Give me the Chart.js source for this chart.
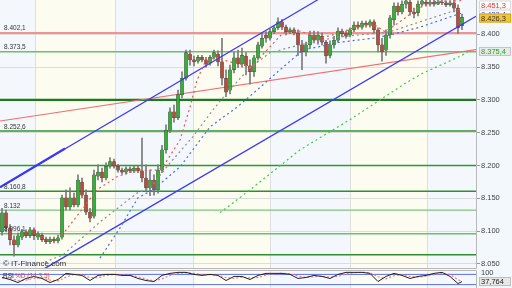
<!DOCTYPE html>
<html>
<head>
<meta charset="utf-8">
<script src="https://cdn.jsdelivr.net/npm/chart.js@4.4.1/dist/chart.umd.min.js"></script>
<style>
  html, body { margin: 0; padding: 0; background: #f2f8fb; }
  #wrap { position: relative; width: 512px; height: 288px; overflow: hidden; }
  #main { position: absolute; left: 0; top: 0; }
  #rsi  { position: absolute; left: 0; top: 270px; }
</style>
</head>
<body>
<div id="wrap">
  <canvas id="main" width="512" height="269"></canvas>
  <canvas id="rsi" width="512" height="18"></canvas>
</div>
<script>
/* ── Données ───────────────────────────────────────────────── */

const openP = [
  8.099, 8.128, 8.105, 8.087, 8.079, 8.091, 8.099, 8.093, 8.102, 8.091,
  8.094, 8.088, 8.084, 8.088, 8.085, 8.091, 8.151, 8.137, 8.151, 8.140,
  8.175, 8.155, 8.129, 8.123, 8.184, 8.190, 8.181, 8.199, 8.206, 8.199,
  8.193, 8.190, 8.195, 8.192, 8.196, 8.192, 8.181, 8.166, 8.178, 8.163,
  8.193, 8.224, 8.254, 8.282, 8.273, 8.308, 8.333, 8.370, 8.361, 8.359,
  8.365, 8.361, 8.356, 8.365, 8.370, 8.358, 8.333, 8.315, 8.346, 8.364,
  8.355, 8.367, 8.352, 8.343, 8.364, 8.382, 8.399, 8.394, 8.404, 8.410,
  8.419, 8.411, 8.404, 8.407, 8.402, 8.384, 8.373, 8.384, 8.399, 8.391,
  8.397, 8.388, 8.368, 8.384, 8.391, 8.405, 8.401, 8.399, 8.407, 8.414,
  8.411, 8.417, 8.414, 8.419, 8.407, 8.384, 8.376, 8.399, 8.422, 8.443,
  8.434, 8.446, 8.449, 8.434, 8.433, 8.446, 8.449, 8.446, 8.449, 8.446,
  8.449, 8.448, 8.445, 8.448, 8.440, 8.413,
];
const highP = [
  8.135, 8.132, 8.110, 8.093, 8.097, 8.103, 8.102, 8.106, 8.105, 8.099,
  8.097, 8.091, 8.091, 8.091, 8.094, 8.155, 8.163, 8.166, 8.158, 8.186,
  8.181, 8.163, 8.135, 8.193, 8.201, 8.196, 8.204, 8.212, 8.210, 8.202,
  8.196, 8.198, 8.198, 8.199, 8.199, 8.242, 8.201, 8.193, 8.186, 8.201,
  8.231, 8.262, 8.288, 8.292, 8.315, 8.343, 8.376, 8.376, 8.367, 8.368,
  8.368, 8.365, 8.368, 8.376, 8.375, 8.394, 8.346, 8.353, 8.373, 8.376,
  8.379, 8.372, 8.361, 8.368, 8.388, 8.401, 8.404, 8.408, 8.413, 8.425,
  8.423, 8.414, 8.410, 8.410, 8.407, 8.391, 8.388, 8.405, 8.405, 8.404,
  8.402, 8.391, 8.390, 8.397, 8.410, 8.408, 8.405, 8.410, 8.419, 8.419,
  8.420, 8.420, 8.422, 8.422, 8.410, 8.394, 8.407, 8.429, 8.448, 8.448,
  8.451, 8.452, 8.452, 8.440, 8.451, 8.452, 8.452, 8.452, 8.452, 8.452,
  8.452, 8.451, 8.451, 8.452, 8.445, 8.431,
];
const lowP = [
  8.094, 8.099, 8.079, 8.062, 8.076, 8.087, 8.090, 8.090, 8.087, 8.087,
  8.084, 8.081, 8.081, 8.082, 8.082, 8.088, 8.132, 8.132, 8.137, 8.137,
  8.151, 8.125, 8.114, 8.120, 8.178, 8.175, 8.178, 8.196, 8.196, 8.190,
  8.187, 8.187, 8.189, 8.189, 8.189, 8.175, 8.160, 8.154, 8.155, 8.158,
  8.189, 8.219, 8.250, 8.266, 8.270, 8.303, 8.330, 8.353, 8.352, 8.356,
  8.358, 8.350, 8.353, 8.362, 8.352, 8.323, 8.305, 8.309, 8.341, 8.349,
  8.350, 8.338, 8.324, 8.336, 8.361, 8.379, 8.388, 8.391, 8.401, 8.407,
  8.407, 8.399, 8.401, 8.399, 8.368, 8.346, 8.367, 8.379, 8.387, 8.385,
  8.384, 8.356, 8.364, 8.379, 8.388, 8.396, 8.394, 8.396, 8.404, 8.408,
  8.408, 8.411, 8.411, 8.402, 8.373, 8.359, 8.368, 8.394, 8.414, 8.429,
  8.431, 8.440, 8.429, 8.425, 8.428, 8.443, 8.443, 8.443, 8.443, 8.445,
  8.445, 8.442, 8.443, 8.434, 8.401, 8.407,
];
const closeP = [
  8.128, 8.105, 8.087, 8.079, 8.093, 8.099, 8.093, 8.102, 8.093, 8.096,
  8.087, 8.084, 8.088, 8.085, 8.090, 8.151, 8.137, 8.151, 8.140, 8.178,
  8.155, 8.129, 8.120, 8.186, 8.190, 8.181, 8.199, 8.206, 8.199, 8.193,
  8.190, 8.195, 8.192, 8.196, 8.192, 8.181, 8.166, 8.178, 8.163, 8.193,
  8.224, 8.254, 8.282, 8.273, 8.308, 8.333, 8.372, 8.361, 8.358, 8.365,
  8.361, 8.355, 8.365, 8.372, 8.358, 8.333, 8.312, 8.346, 8.364, 8.355,
  8.368, 8.352, 8.343, 8.364, 8.384, 8.394, 8.394, 8.404, 8.410, 8.419,
  8.411, 8.404, 8.407, 8.402, 8.384, 8.373, 8.384, 8.399, 8.391, 8.399,
  8.388, 8.367, 8.384, 8.391, 8.405, 8.401, 8.397, 8.407, 8.414, 8.411,
  8.417, 8.414, 8.419, 8.407, 8.384, 8.373, 8.399, 8.425, 8.443, 8.434,
  8.446, 8.451, 8.434, 8.431, 8.446, 8.451, 8.446, 8.449, 8.446, 8.449,
  8.448, 8.445, 8.448, 8.440, 8.410, 8.426,
];

// Moyennes mobiles (points relevés, index de séance -> cours)
const maRedIdx  = [15, 19.5, 23.75, 28.75, 33.75, 36.25, 38.75, 40.25, 44.5, 47, 48.75, 50.75, 53.25, 57, 60.75, 62.75, 65, 70.25, 74.5, 79.5, 84.5, 89.5, 93.25, 95.75, 99.5, 103.75, 108.25, 115];
const maRedVal  = [8.094, 8.129, 8.163, 8.183, 8.193, 8.193, 8.193, 8.198, 8.239, 8.289, 8.330, 8.358, 8.365, 8.358, 8.353, 8.349, 8.368, 8.402, 8.405, 8.394, 8.402, 8.414, 8.414, 8.404, 8.419, 8.439, 8.450, 8.4513];
const maGrayIdx = [10.75, 15.25, 24.5, 33.75, 37, 42, 47.75, 52.75, 56.25, 62, 67, 74.5, 84, 92.75, 97, 104.5, 112, 115];
const maGrayVal = [8.053, 8.064, 8.114, 8.158, 8.166, 8.204, 8.244, 8.285, 8.311, 8.349, 8.372, 8.384, 8.396, 8.401, 8.404, 8.419, 8.434, 8.439];
const maBlueIdx = [24.5, 29.5, 34, 37.75, 44.5, 52, 58.75, 63.75, 69.5, 75.25, 84.5, 92.75, 97, 104.5, 113.25, 115];
const maBlueVal = [8.059, 8.105, 8.151, 8.163, 8.198, 8.259, 8.289, 8.315, 8.346, 8.376, 8.388, 8.394, 8.399, 8.411, 8.429, 8.4324];
const maGreenIdx = [54.5, 62, 74.5, 87, 94.5, 101.25, 105.25, 110.75, 115, 117];
const maGreenVal = [8.128, 8.163, 8.224, 8.270, 8.300, 8.327, 8.341, 8.356, 8.368, 8.3754];

// Lignes horizontales et leurs étiquettes
const levelValues = [8.4021, 8.3735, 8.300, 8.2526, 8.200, 8.1608, 8.132, 8.0961, 8.064];
const levelLabels = ["8.402,1", "8.373,5", "", "8.252,6", "", "8.160,8", "8.132", "8.096,1", ""];

// Droites de tendance : [index début, index fin], [cours début, cours fin]
const channelTopIdx = [-0.5, 81.25],  channelTopVal = [8.167, 8.461];
const channelTopBoldIdx = [-0.5, 15.75], channelTopBoldVal = [8.167, 8.226];
const channelLowIdx = [9.5, 118.5],   channelLowVal = [8.039, 8.4275];
const redTrendIdx   = [-0.5, 118.5],  redTrendVal   = [8.2679, 8.3767];

// Débuts de mois (index de séance)
const monthBreaks = [8.25, 28.25, 47.75, 67, 87, 106.25];

// Axe des cours
const tickValues = [8.05, 8.10, 8.15, 8.20, 8.25, 8.30, 8.35, 8.40];

// Étiquettes de droite
const tagValues = [8.4513, 8.4324, 8.3754, 8.4263];
const tagTexts  = ["8.451,3", "8.432,4", "8.375,4", "8.426,3"];

// Oscillateur
const rsiIdx = [0, 2, 4, 6, 8, 10, 12, 14, 16, 18, 20, 22, 24, 26, 28, 30, 32, 34, 36, 38,
                40, 42, 44, 46, 48, 50, 52, 54, 56, 58, 60, 62, 64, 66, 68, 70, 72, 74, 76, 78,
                80, 82, 84, 86, 88, 90, 92, 94, 96, 98, 100, 102, 104, 106, 108, 110, 112, 114, 115];
const rsiK = [62, 50, 32, 56, 68, 56, 32, 50, 86, 80, 74, 44, 74, 80, 80, 74, 74, 56, 44, 38,
              74, 86, 92, 92, 80, 74, 80, 74, 44, 68, 68, 50, 74, 86, 86, 86, 80, 56, 62, 74,
              68, 56, 80, 92, 92, 92, 86, 38, 68, 86, 74, 56, 68, 74, 86, 92, 68, 26, 37.764];
const rsiD = [60, 56, 44, 46, 58, 60, 46, 42, 64, 80, 78, 62, 60, 74, 80, 78, 76, 66, 52, 42,
              54, 74, 86, 90, 86, 78, 78, 76, 62, 56, 64, 60, 62, 76, 84, 86, 84, 70, 62, 66,
              70, 64, 68, 82, 90, 92, 90, 66, 54, 72, 78, 68, 64, 70, 78, 88, 80, 48, 40];
const rsiLevels = [80, 20];

/* ── Styles ────────────────────────────────────────────────── */

const FONT = "'Liberation Sans', Arial, sans-serif";
const X_MIN = -0.5, X_MAX = 118.5;

const levelStyles = [
  { color: "#f07070", width: 1.5 },
  { color: "#6cbf6c", width: 1.5 },
  { color: "#1d7a1d", width: 2.2 },
  { color: "#2f992f", width: 1.5 },
  { color: "#2f992f", width: 1.5 },
  { color: "#2f8f2f", width: 1.5 },
  { color: "#7cc67c", width: 1.3 },
  { color: "#6cbf6c", width: 1.3 },
  { color: "#2f8f2f", width: 1.5 },
];

const tagStyles = [
  { text: "#e03030", fill: "#ffffff", stroke: "#d8d8d8" },
  { text: "#3050e0", fill: "#ffffff", stroke: "#d8d8d8" },
  { text: "#22aa22", fill: "#e8e8e8", stroke: "#c4c4c4" },
  { text: "#333333", fill: "#f4c53a", stroke: "#d9a820" },
];

const pts = (idx, val) => idx.map((x, i) => ({ x, y: val[i] }));

function lineDs(data, color, width, order, dash) {
    return {
        type: "line", data, borderColor: color, borderWidth: width,
        borderDash: dash || [], pointRadius: 0, fill: false, tension: 0, order,
    };
}

/* ── Plugins ───────────────────────────────────────────────── */

function drawBands(chart) {
    const { ctx, chartArea: a, scales: { x } } = chart;
    const edges = [X_MIN, ...monthBreaks, X_MAX];
    ctx.save();
    for (let k = 0; k < edges.length - 1; k++) {
        const x0 = x.getPixelForValue(edges[k]);
        const x1 = x.getPixelForValue(edges[k + 1]);
        ctx.fillStyle = k % 2 ? "#fcfcf1" : "#f4f8fc";
        ctx.fillRect(x0, a.top, x1 - x0, a.bottom - a.top);
    }
    ctx.strokeStyle = "#dedede";
    ctx.lineWidth = 1;
    monthBreaks.forEach((m) => {
        const px = Math.round(x.getPixelForValue(m)) + 0.5;
        ctx.beginPath();
        ctx.moveTo(px, a.top);
        ctx.lineTo(px, a.bottom);
        ctx.stroke();
    });
    ctx.restore();
}

function drawTag(ctx, text, cy, st) {
    ctx.fillStyle = st.fill;
    ctx.strokeStyle = st.stroke;
    ctx.lineWidth = 1;
    ctx.fillRect(479, cy - 4.5, 32, 9);
    ctx.strokeRect(479.5, cy - 4, 31, 8);
    ctx.fillStyle = st.text;
    ctx.font = `7.5px ${FONT}`;
    ctx.textBaseline = "middle";
    ctx.textAlign = "left";
    ctx.fillText(text, 481, cy + 0.5);
}

const mainDecor = {
    id: "mainDecor",
    beforeDraw: drawBands,
    afterDraw(chart) {
        const { ctx, chartArea: a, scales: { y } } = chart;
        ctx.save();
        // cadre
        ctx.strokeStyle = "#b8b8b8";
        ctx.lineWidth = 1;
        ctx.beginPath();
        ctx.moveTo(a.left, a.bottom + 0.5);
        ctx.lineTo(a.right + 0.5, a.bottom + 0.5);
        ctx.lineTo(a.right + 0.5, a.top);
        ctx.stroke();

        // étiquettes des niveaux
        ctx.fillStyle = "#333";
        ctx.font = `6.5px ${FONT}`;
        ctx.textBaseline = "alphabetic";
        levelValues.forEach((v, i) => {
            if (!levelLabels[i]) return;
            ctx.fillText(levelLabels[i], 4, y.getPixelForValue(v) - 2.5);
        });

        // filigrane
        ctx.font = `8px ${FONT}`;
        ctx.fillStyle = "#333";
        ctx.fillText("© IT-Finance.com", 3, 266);

        // étiquettes de droite
        tagValues.forEach((v, i) => {
            const cy = Math.max(5, y.getPixelForValue(v) + 1);
            drawTag(ctx, tagTexts[i], cy, tagStyles[i]);
        });
        ctx.restore();
    },
};

const rsiDecor = {
    id: "rsiDecor",
    beforeDraw: drawBands,
    afterDraw(chart) {
        const { ctx, chartArea: a, scales: { y } } = chart;
        ctx.save();
        ctx.strokeStyle = "#b8b8b8";
        ctx.lineWidth = 1;
        ctx.beginPath();
        ctx.moveTo(0, 0.5);
        ctx.lineTo(a.right + 0.5, 0.5);
        ctx.lineTo(a.right + 0.5, a.bottom);
        ctx.stroke();

        ctx.font = `6.5px ${FONT}`;
        ctx.textBaseline = "alphabetic";
        ctx.fillStyle = "#222";
        ctx.fillText("RSI", 3, 8);
        ctx.fillStyle = "#e04040";
        ctx.fillText("%D (14,3,5)", 15, 8);

        ctx.fillStyle = "#444";
        ctx.font = `7.5px ${FONT}`;
        ctx.fillText("100", 481, 5);
        drawTag(ctx, "37,764", y.getPixelForValue(rsiK[rsiK.length - 1]),
                { text: "#222", fill: "#e8e8e8", stroke: "#bdbdbd" });
        ctx.restore();
    },
};

/* ── Graphique principal ───────────────────────────────────── */

const datasets = [];

levelValues.forEach((v, i) => {
    datasets.push(lineDs([{ x: X_MIN, y: v }, { x: X_MAX, y: v }],
                         levelStyles[i].color, levelStyles[i].width, 20));
});

datasets.push(lineDs(pts(redTrendIdx, redTrendVal), "#f07070", 1.2, 19));

datasets.push({
    type: "bar",
    data: highP.map((h, i) => ({ x: i, y: [lowP[i], h] })),
    backgroundColor: "#7a7a7a",
    barThickness: 1,
    grouped: false,
    order: 10,
});

datasets.push({
    type: "bar",
    data: openP.map((o, i) => ({ x: i, y: [o, closeP[i]] })),
    backgroundColor: openP.map((o, i) => (closeP[i] >= o ? "#30b530" : "#bf4a35")),
    borderColor: "#3a3a3a",
    borderWidth: 0.5,
    borderSkipped: false,
    barThickness: 3,
    grouped: false,
    order: 9,
});

datasets.push(lineDs(pts(channelTopIdx, channelTopVal), "#3b3bf5", 1.2, 5));
datasets.push(lineDs(pts(channelTopBoldIdx, channelTopBoldVal), "#3b3bf5", 2.2, 5));
datasets.push(lineDs(pts(channelLowIdx, channelLowVal), "#3b3bf5", 1.4, 5));

datasets.push(lineDs(pts(maGreenIdx, maGreenVal), "#3fcc3f", 1.2, 3, [2, 3]));
datasets.push(lineDs(pts(maBlueIdx, maBlueVal), "#4a6cf0", 1.2, 3, [2, 3]));
datasets.push(lineDs(pts(maGrayIdx, maGrayVal), "#8f8f8f", 1.2, 3, [2, 3]));
datasets.push(lineDs(pts(maRedIdx, maRedVal), "#e85a5a", 1.2, 3, [2, 3]));

new Chart(document.getElementById("main"), {
    type: "bar",
    data: { datasets },
    options: {
        responsive: false,
        animation: false,
        events: [],
        layout: { padding: { top: 0, bottom: 1, left: 0, right: 0 } },
        plugins: { legend: { display: false }, tooltip: { enabled: false } },
        scales: {
            x: { type: "linear", min: X_MIN, max: X_MAX, display: false, offset: false },
            y: {
                position: "right",
                min: 8.0439,
                max: 8.4523,
                afterFit: (s) => { s.width = 36; s.paddingTop = 0; s.paddingBottom = 0; },
                afterBuildTicks: (s) => { s.ticks = tickValues.map((v) => ({ value: v })); },
                ticks: {
                    callback: (v) => Number(v).toFixed(3),
                    font: { family: FONT, size: 7.5 },
                    color: "#444",
                    padding: 1,
                },
                grid: { color: "#dcdcdc", tickLength: 4, tickColor: "#999" },
                border: { display: false },
            },
        },
    },
    plugins: [mainDecor],
});

/* ── Oscillateur ───────────────────────────────────────────── */

const rsiSets = rsiLevels.map((v) => lineDs([{ x: X_MIN, y: v }, { x: X_MAX, y: v }], "#5a6ee8", 1, 5));
rsiSets.push(lineDs(pts(rsiIdx, rsiD), "#f08080", 1.2, 2, [2, 2]));
rsiSets.push(lineDs(pts(rsiIdx, rsiK), "#222222", 1, 1));

new Chart(document.getElementById("rsi"), {
    type: "line",
    data: { datasets: rsiSets },
    options: {
        responsive: false,
        animation: false,
        events: [],
        layout: { padding: { top: 1, bottom: 0, left: 0, right: 0 } },
        plugins: { legend: { display: false }, tooltip: { enabled: false } },
        scales: {
            x: { type: "linear", min: X_MIN, max: X_MAX, display: false },
            y: {
                position: "right",
                min: 0,
                max: 100,
                afterFit: (s) => { s.width = 36; s.paddingTop = 0; s.paddingBottom = 0; },
                ticks: { display: false },
                grid: { display: false },
                border: { display: false },
            },
        },
    },
    plugins: [rsiDecor],
});
</script>
</body>
</html>
